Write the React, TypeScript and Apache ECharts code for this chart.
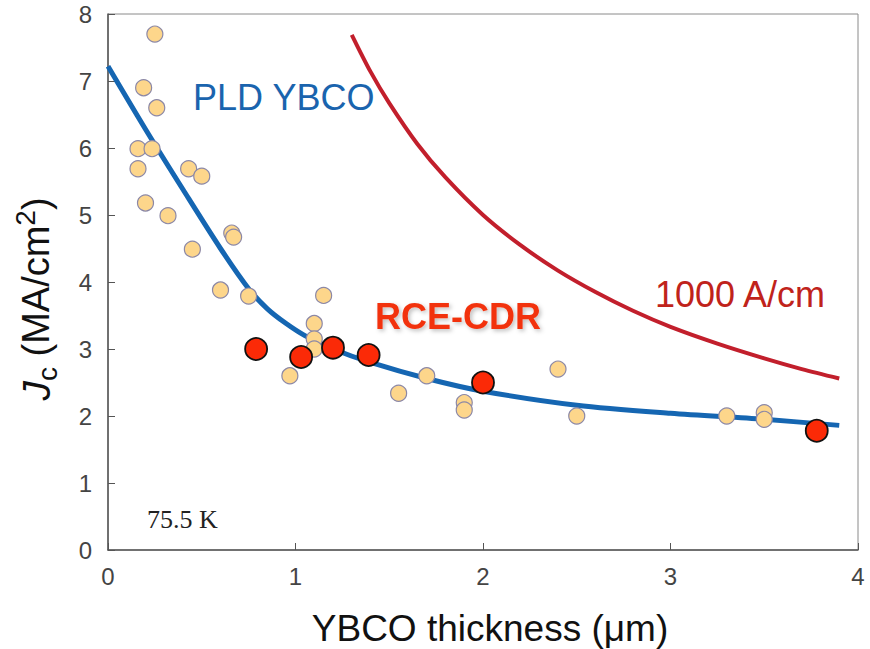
import React, { useEffect, useRef } from "react";
import * as echarts from "echarts";

// PLD YBCO literature data (yellow dots)
const pldX = [0.25, 0.19, 0.26, 0.16, 0.235, 0.16, 0.2, 0.32, 0.43, 0.5, 0.45, 0.66, 0.67, 0.6, 0.75, 0.97, 1.15, 1.1, 1.1, 1.1, 1.55, 1.7, 1.9, 1.9, 2.4, 2.5, 3.3, 3.5, 3.5];
const pldY = [7.7, 6.9, 6.6, 5.99, 5.99, 5.69, 5.18, 4.99, 5.69, 5.58, 4.49, 4.73, 4.67, 3.88, 3.79, 2.6, 3.8, 3.38, 3.15, 3.0, 2.34, 2.6, 2.2, 2.09, 2.7, 2.0, 2.0, 2.05, 1.95];

// RCE-CDR data (red dots)
const rceX = [0.79, 1.03, 1.2, 1.39, 2.0, 3.78];
const rceY = [3.0, 2.88, 3.02, 2.91, 2.5, 1.78];

// PLD YBCO trend curve (blue)
const trendX = [0, 0.2, 0.4, 0.6, 0.75, 0.85, 0.95, 1.05, 1.2, 1.4, 1.7, 2.0, 2.5, 3.0, 3.5, 3.9];
const trendY = [7.22, 6.28, 5.38, 4.5, 3.9, 3.6, 3.38, 3.2, 3.0, 2.8, 2.56, 2.37, 2.16, 2.04, 1.95, 1.86];

// 1000 A/cm line (red)
const icX = [1.3, 1.4, 1.5, 1.65, 1.8, 2.0, 2.2, 2.4, 2.6, 2.8, 3.0, 3.25, 3.5, 3.7, 3.9];
const icY = [7.69, 7.14, 6.67, 6.06, 5.56, 5.0, 4.55, 4.17, 3.85, 3.57, 3.33, 3.08, 2.86, 2.7, 2.56];

const xTicks = [0, 4, 1];
const yTicks = [0, 8, 1];

const zip = (xs: number[], ys: number[]) => xs.map((x, i) => [x, ys[i]]);

const SANS = '"Liberation Sans", Arial, sans-serif';

export default function App() {
  const ref = useRef<HTMLDivElement>(null);
  useEffect(() => {
    const chart = echarts.init(ref.current!, null, { renderer: "svg" });
    chart.setOption({
      animation: false,
      backgroundColor: "#ffffff",
      grid: { left: 108, right: 12, top: 14, bottom: 99, show: true, borderColor: "#8a8a8a", borderWidth: 1 },
      xAxis: {
        type: "value",
        min: xTicks[0],
        max: xTicks[1],
        interval: xTicks[2],
        axisLine: { show: true, lineStyle: { color: "#555", width: 1.5 } },
        axisTick: { show: true, inside: true, length: 7, lineStyle: { color: "#555", width: 1 } },
        axisLabel: { fontSize: 24, color: "#444", margin: 14, fontFamily: SANS },
        splitLine: { show: false },
      },
      yAxis: {
        type: "value",
        min: yTicks[0],
        max: yTicks[1],
        interval: yTicks[2],
        axisLine: { show: true, lineStyle: { color: "#555", width: 1.5 } },
        axisTick: { show: true, inside: true, length: 7, lineStyle: { color: "#555", width: 1 } },
        axisLabel: { fontSize: 24, color: "#444", margin: 16, fontFamily: SANS },
        splitLine: { show: false },
      },
      series: [
        {
          type: "line",
          name: "PLD YBCO fit",
          data: zip(trendX, trendY),
          smooth: 0.3,
          symbol: "none",
          lineStyle: { color: "#1566b2", width: 5 },
          z: 2,
        },
        {
          type: "line",
          name: "1000 A/cm",
          data: zip(icX, icY),
          smooth: 0.3,
          symbol: "none",
          lineStyle: { color: "#c21f2c", width: 4 },
          z: 2,
        },
        {
          type: "scatter",
          name: "PLD YBCO",
          data: zip(pldX, pldY),
          symbolSize: 16,
          itemStyle: { color: "#fdd68b", borderColor: "#8c88a6", borderWidth: 1.2, opacity: 1 },
          z: 3,
        },
        {
          type: "scatter",
          name: "RCE-CDR",
          data: zip(rceX, rceY),
          symbolSize: 22,
          itemStyle: { color: "#fb2a07", borderColor: "#111", borderWidth: 1.8, opacity: 1 },
          z: 4,
        },
      ],
      graphic: [
        {
          type: "text",
          x: 193,
          y: 97,
          style: { text: "PLD YBCO", font: `36px ${SANS}`, fill: "#1a64ae", textAlign: "left", textVerticalAlign: "middle" },
        },
        {
          type: "text",
          x: 375,
          y: 316,
          style: {
            text: "RCE-CDR",
            font: `bold 36px ${SANS}`,
            fill: "#f2330f",
            textAlign: "left",
            textVerticalAlign: "middle",
            textShadowColor: "rgba(0,0,0,0.25)",
            textShadowBlur: 4,
            textShadowOffsetX: 2,
            textShadowOffsetY: 2,
          },
        },
        {
          type: "text",
          x: 655,
          y: 294,
          style: { text: "1000 A/cm", font: `36px ${SANS}`, fill: "#c0231b", textAlign: "left", textVerticalAlign: "middle" },
        },
        {
          type: "text",
          x: 147,
          y: 519,
          style: { text: "75.5 K", font: '26px "Liberation Serif", "Times New Roman", serif', fill: "#222", textAlign: "left", textVerticalAlign: "middle" },
        },
        {
          type: "text",
          x: 490,
          y: 628,
          style: { text: "YBCO thickness (μm)", font: `37px ${SANS}`, fill: "#111", textAlign: "center", textVerticalAlign: "middle" },
        },
        {
          type: "text",
          x: 36,
          y: 299,
          rotation: Math.PI / 2,
          style: {
            text: "{j|J}{s|c}{n| (MA/cm}{p|2}{n|)}",
            textAlign: "center",
            textVerticalAlign: "middle",
            fill: "#111",
            rich: {
              j: { fontSize: 39, fontStyle: "italic", fontFamily: SANS, lineHeight: 50, fill: "#111", color: "#111" },
              s: { fontSize: 28, fontFamily: SANS, lineHeight: 18, verticalAlign: "bottom", fill: "#111", color: "#111" },
              n: { fontSize: 38, fontFamily: SANS, lineHeight: 50, fill: "#111", color: "#111" },
              p: { fontSize: 28, fontFamily: SANS, lineHeight: 26, verticalAlign: "top", fill: "#111", color: "#111" },
            },
          },
        },
      ],
    });
    return () => chart.dispose();
  }, []);
  return (
    <div
      ref={ref}
      style={{ position: "fixed", left: 0, top: 0, width: 870, height: 649, background: "#fff" }}
    />
  );
}
